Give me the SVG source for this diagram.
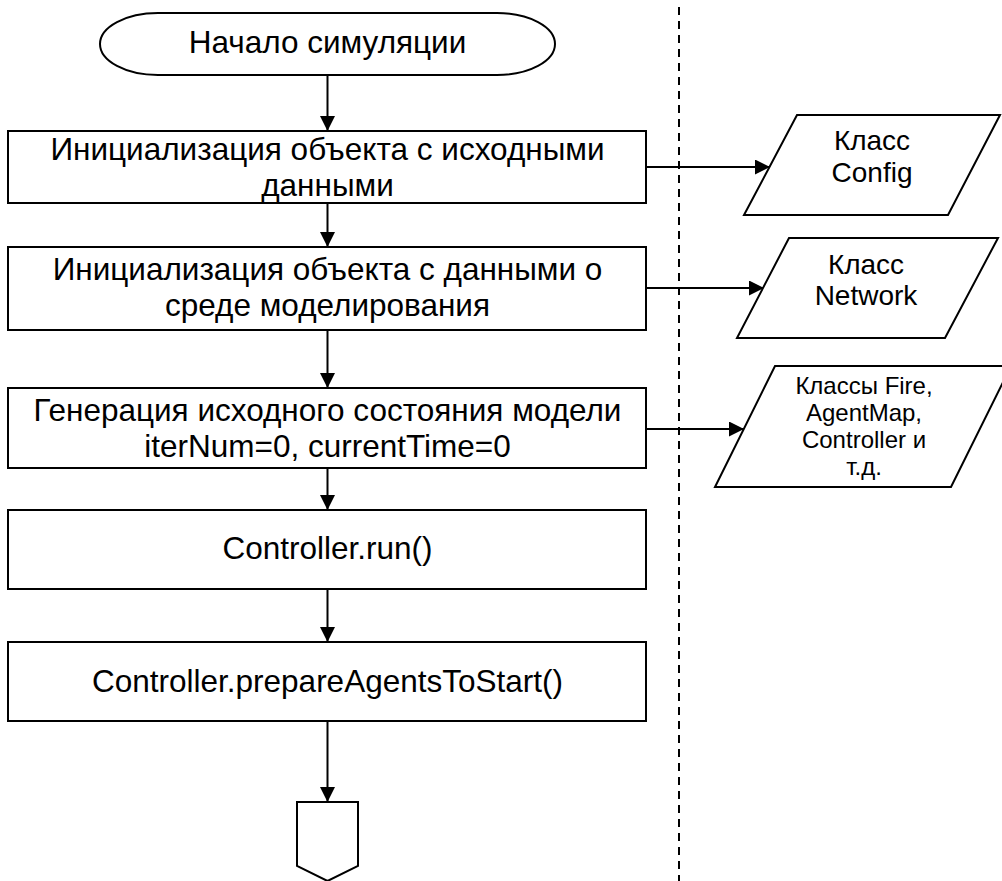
<svg xmlns="http://www.w3.org/2000/svg" width="1002" height="881" viewBox="0 0 1002 881">
  <defs>
    <marker id="arrow" viewBox="0 0 15 15" refX="15" refY="7.5" markerWidth="15" markerHeight="15" markerUnits="userSpaceOnUse" orient="auto">
      <path d="M0,0 L15,7.5 L0,15 z" fill="#000"/>
    </marker>
    <style>
      .shape { fill: #fff; stroke: #000; stroke-width: 2; }
      .main { font-family: "Liberation Sans", Arial, sans-serif; font-size: 31.5px; fill: #000; text-anchor: middle; }
      .side { font-family: "Liberation Sans", Arial, sans-serif; font-size: 28px; fill: #000; text-anchor: middle; }
      .small { font-family: "Liberation Sans", Arial, sans-serif; font-size: 24px; fill: #000; text-anchor: middle; }
      .link { fill: none; stroke: #000; stroke-width: 2; marker-end: url(#arrow); }
      .divider { fill: none; stroke: #000; stroke-width: 2; stroke-dasharray: 8 6; }
    </style>
  </defs>
  <rect width="1002" height="881" fill="#fff"/>

  <!-- boundary between the program and its classes -->
  <line class="divider" x1="679" y1="7" x2="679" y2="881"/>

  <g id="connectors">
    <line class="link" x1="327.5" y1="75" x2="327.5" y2="131"/>
    <line class="link" x1="327.5" y1="203" x2="327.5" y2="247"/>
    <line class="link" x1="327.5" y1="330" x2="327.5" y2="388"/>
    <line class="link" x1="327.5" y1="468" x2="327.5" y2="510"/>
    <line class="link" x1="327.5" y1="589" x2="327.5" y2="642"/>
    <line class="link" x1="327.5" y1="721" x2="327.5" y2="802"/>
    <line class="link" x1="646" y1="167" x2="770" y2="167"/>
    <line class="link" x1="646" y1="288" x2="764" y2="288"/>
    <line class="link" x1="646" y1="429" x2="744" y2="429"/>
  </g>

  <g id="start">
    <rect class="shape" x="100" y="13" width="455" height="62" rx="58" ry="31"/>
    <text class="main" x="327.5" y="53">Начало симуляции</text>
  </g>

  <g id="init-config">
    <rect class="shape" x="8" y="131" width="638" height="72"/>
    <text class="main" x="327.5" y="160">Инициализация объекта с исходными</text>
    <text class="main" x="327.5" y="196">данными</text>
  </g>

  <g id="init-network">
    <rect class="shape" x="8" y="247" width="638" height="83"/>
    <text class="main" x="327.5" y="280">Инициализация объекта с данными о</text>
    <text class="main" x="327.5" y="316">среде моделирования</text>
  </g>

  <g id="generate-state">
    <rect class="shape" x="8" y="388" width="638" height="80"/>
    <text class="main" x="327.5" y="421">Генерация исходного состояния модели</text>
    <text class="main" x="327.5" y="457">iterNum=0, currentTime=0</text>
  </g>

  <g id="controller-run">
    <rect class="shape" x="8" y="510" width="638" height="79"/>
    <text class="main" x="327.5" y="559">Controller.run()</text>
  </g>

  <g id="prepare-agents">
    <rect class="shape" x="8" y="642" width="638" height="79"/>
    <text class="main" x="327.5" y="692">Controller.prepareAgentsToStart()</text>
  </g>

  <g id="next-page">
    <path class="shape" d="M297,802 L358,802 L358,866 L327.5,881 L297,866 Z"/>
  </g>

  <g id="class-config">
    <path class="shape" d="M797,115 L1000,115 L948,215 L744,215 Z"/>
    <text class="side" x="872" y="150">Класс</text>
    <text class="side" x="872" y="182">Config</text>
  </g>

  <g id="class-network">
    <path class="shape" d="M789,238 L998,238 L945,338 L737,338 Z"/>
    <text class="side" x="866" y="274">Класс</text>
    <text class="side" x="866" y="305">Network</text>
  </g>

  <g id="class-model">
    <path class="shape" d="M775,366 L1011,366 L951,487 L715,487 Z"/>
    <text class="small" x="864" y="394">Классы Fire,</text>
    <text class="small" x="864" y="421">AgentMap,</text>
    <text class="small" x="864" y="448">Controller и</text>
    <text class="small" x="864" y="475">т.д.</text>
  </g>
</svg>
